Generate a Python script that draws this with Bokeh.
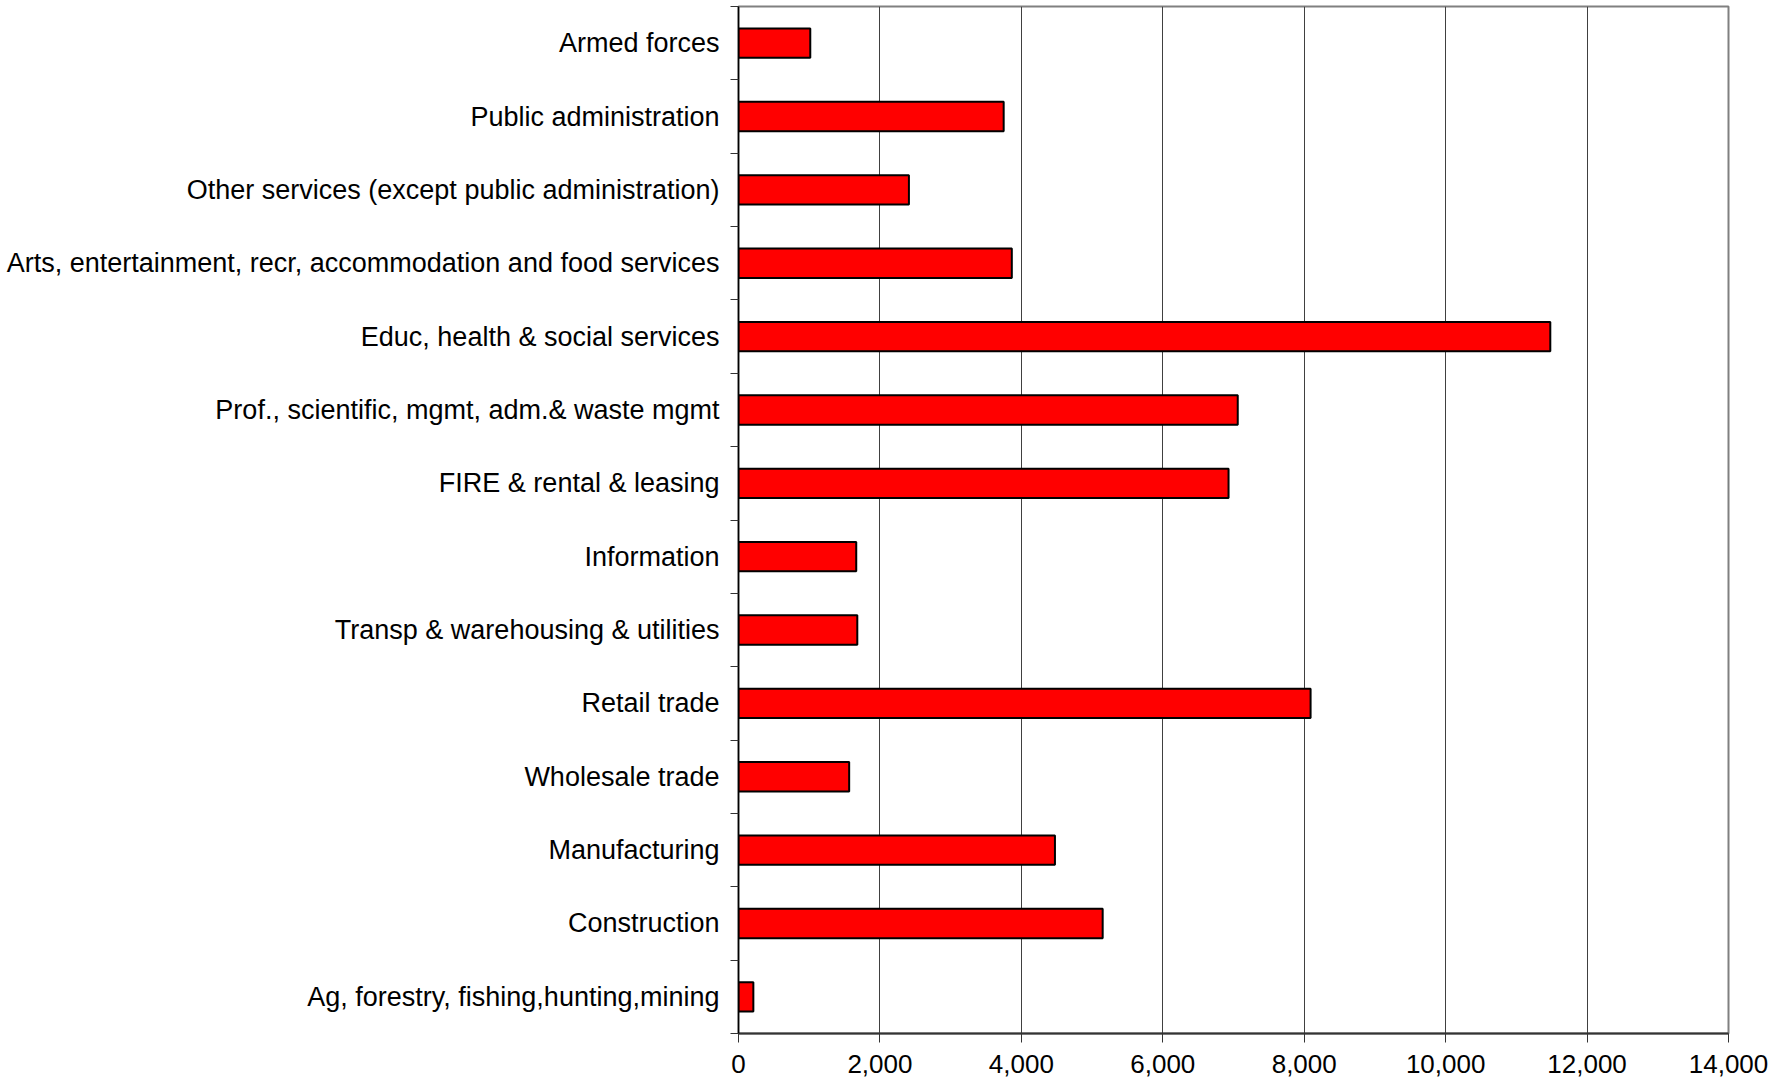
from bokeh.plotting import figure
from bokeh.models import FixedTicker, NumeralTickFormatter, Range1d, ColumnDataSource
from bokeh.embed import file_html
from bokeh.resources import INLINE

categories = [
    "Ag, forestry, fishing,hunting,mining",
    "Construction",
    "Manufacturing",
    "Wholesale trade",
    "Retail trade",
    "Transp & warehousing & utilities",
    "Information",
    "FIRE & rental & leasing",
    "Prof., scientific, mgmt, adm.& waste mgmt",
    "Educ, health & social services",
    "Arts, entertainment, recr, accommodation and food services",
    "Other services (except public administration)",
    "Public administration",
    "Armed forces",
]
values = [210, 5150, 4475, 1565, 8090, 1680, 1665, 6930, 7060, 11480, 3865, 2410, 3750, 1015]
x_ticks = [0, 2000, 4000, 6000, 8000, 10000, 12000, 14000]

ypos = [i + 0.5 for i in range(len(categories))]
src = ColumnDataSource(dict(y=ypos, v=values, name=categories))

p = figure(width=1778, height=1086, output_backend="svg", toolbar_location=None,
           x_range=Range1d(0, 14000), y_range=Range1d(0, len(categories)),
           min_border_left=738, min_border_right=50, min_border_top=6, min_border_bottom=53)

p.hbar(y="y", right="v", left=0, height=0.4, source=src,
       fill_color="#ff0000", line_color="black", line_width=2)

p.outline_line_color = "#808080"
p.outline_line_width = 2
p.background_fill_color = "white"
p.border_fill_color = "white"

# x axis
xa = p.xaxis[0]
xa.ticker = FixedTicker(ticks=x_ticks)
xa.formatter = NumeralTickFormatter(format="0,0")
xa.axis_line_color = "#333333"
xa.axis_line_width = 2
xa.major_tick_line_color = "#333333"
xa.major_tick_out = 9
xa.major_tick_in = 0
xa.minor_tick_line_color = None
xa.major_label_text_font = "Liberation Sans"
xa.major_label_text_font_size = "26px"
xa.major_label_text_color = "black"
xa.major_label_standoff = 12

# y axis
ya = p.yaxis[0]
ya.ticker = FixedTicker(ticks=ypos, minor_ticks=list(range(len(categories) + 1)))
ya.major_label_overrides = {y: c for y, c in zip(ypos, categories)}
ya.axis_line_color = "black"
ya.axis_line_width = 1.5
ya.major_tick_out = 0
ya.major_tick_in = 0
ya.minor_tick_out = 8
ya.minor_tick_in = 0
ya.minor_tick_line_color = "#333333"
ya.major_label_text_font = "Liberation Sans"
ya.major_label_text_font_size = "27px"
ya.major_label_text_color = "black"
ya.major_label_standoff = 11

p.xgrid.ticker = FixedTicker(ticks=x_ticks[1:-1])
p.xgrid.grid_line_color = "#404040"
p.xgrid.grid_line_width = 1
p.ygrid.grid_line_color = None

open("out.html", "w").write(file_html(p, INLINE))
